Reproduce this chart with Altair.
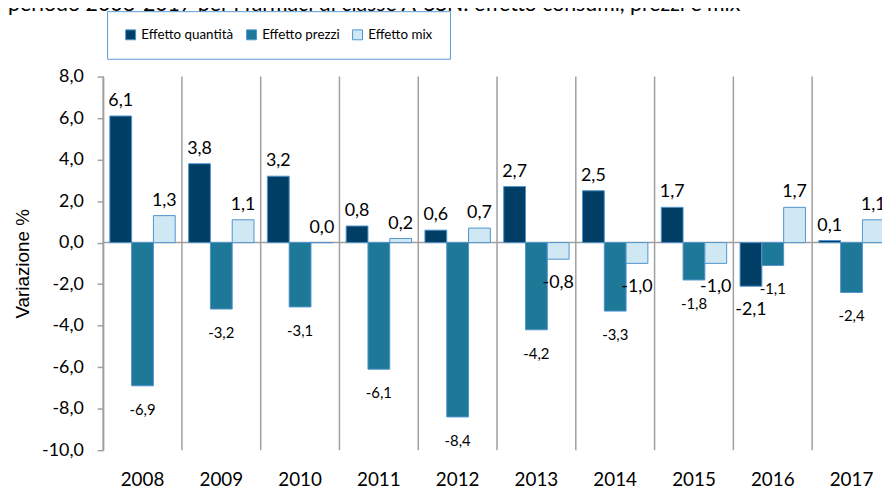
import altair as alt
import pandas as pd

years = ["2008", "2009", "2010", "2011", "2012", "2013", "2014", "2015", "2016", "2017"]
series = ["Effetto quantità", "Effetto prezzi", "Effetto mix"]
quantita = [6.1, 3.8, 3.2, 0.8, 0.6, 2.7, 2.5, 1.7, -2.1, 0.1]
prezzi = [-6.9, -3.2, -3.1, -6.1, -8.4, -4.2, -3.3, -1.8, -1.1, -2.4]
mix = [1.3, 1.1, 0.0, 0.2, 0.7, -0.8, -1.0, -1.0, 1.7, 1.1]
colors = ["#003e65", "#1e7898", "#cfe8f3"]
y_ticks = [-10, -8, -6, -4, -2, 0, 2, 4, 6, 8]
title_text = "periodo 2008-2017 per i farmaci di classe A-SSN: effetto consumi, prezzi e mix"

rows = []
for s, vals in zip(series, [quantita, prezzi, mix]):
    for yr, v in zip(years, vals):
        rows.append({"year": yr, "series": s, "value": v,
                     "label": f"{v:.1f}".replace(".", ",")})
df = pd.DataFrame(rows)

PW = 795
W = 786
H = 377
GRAY = "#a0a0a0"
FONT = "Lato"

xscale = alt.Scale(domain=years, range=[0, PW], paddingInner=0, paddingOuter=0)
yscale = alt.Scale(domain=[-10, 8], nice=False, zero=False)
xaxis = alt.Axis(title=None, domain=False, ticks=False, grid=False, labelAngle=0,
                 labelFont=FONT, labelFontSize=19, labelColor="black", labelPadding=21)
yaxis = alt.Axis(values=y_ticks, grid=False,
                 labelExpr="replace(replace(format(datum.value, '.1f'), '.', ','), '\u2212', '-')",
                 domainColor=GRAY, domainWidth=1.5, tickColor=GRAY, tickSize=6, tickWidth=1.5,
                 labelFont=FONT, labelFontSize=18, labelColor="black", labelPadding=14,
                 title="Variazione %", titleFont="Liberation Sans", titleFontSize=19,
                 titleFontWeight="normal", titleColor="black", titlePadding=9)
xoff = alt.XOffset("series:N", scale=alt.Scale(domain=series, paddingInner=0, paddingOuter=0.307))

X = alt.X("year:N", scale=xscale, axis=xaxis)
Y = alt.Y("value:Q", scale=yscale, axis=yaxis)

base = alt.Chart(df)

bars = base.mark_bar(stroke="#4f94cd", strokeWidth=1).encode(
    x=X, xOffset=xoff, y=Y, y2=alt.datum(0),
    color=alt.Color("series:N", scale=alt.Scale(domain=series, range=colors),
                    legend=alt.Legend(title=None, orient="none", legendX=4, legendY=-66,
                                      direction="horizontal", strokeColor="#5b9bd5",
                                      fillColor="white", padding=17, symbolType="square",
                                      symbolSize=100, symbolStrokeColor="#4f94cd",
                                      symbolStrokeWidth=1, symbolOpacity=1,
                                      labelFont=FONT, labelFontSize=13.5,
                                      labelColor="black", labelOffset=4, columnPadding=10)),
)

seps = alt.Chart(pd.DataFrame({"year": years})).mark_rule(color=GRAY, strokeWidth=1.5).encode(
    x=alt.X("year:N", scale=xscale, axis=xaxis, bandPosition=0),
    y=alt.value(0), y2=alt.value(H),
)

zero = alt.Chart(pd.DataFrame({"z": [0]})).mark_rule(color=GRAY, strokeWidth=1.5).encode(
    y=alt.Y("z:Q", scale=yscale, axis=yaxis), x=alt.value(0), x2=alt.value(PW),
)

pos_labels = base.transform_filter("datum.value >= 0").mark_text(
    baseline="alphabetic", dy=-10, font=FONT, fontSize=18, color="black"
).encode(x=X, xOffset=xoff, y=Y, text="label:N")

neg_labels = base.transform_filter("datum.value < 0").mark_text(
    baseline="alphabetic", dy=29, font=FONT, color="black"
).encode(x=X, xOffset=xoff, y=Y, text="label:N",
         size=alt.condition("datum.series == 'Effetto prezzi'", alt.value(15), alt.value(18)))

title = alt.Chart(pd.DataFrame({"t": [title_text]})).mark_text(
    align="left", baseline="alphabetic", font=FONT, fontSize=21.5, color="black"
).encode(x=alt.value(-96), y=alt.value(-66), text="t:N")

chart = alt.layer(seps, zero, bars, pos_labels, neg_labels, title).properties(
    width=W, height=H,
    autosize=alt.AutoSizeParams(type="none"),
    padding={"left": 96, "top": 67, "right": 0, "bottom": 38},
).configure_view(stroke=None)

chart.save("out.html", embed_options={"renderer": "svg", "actions": False})
